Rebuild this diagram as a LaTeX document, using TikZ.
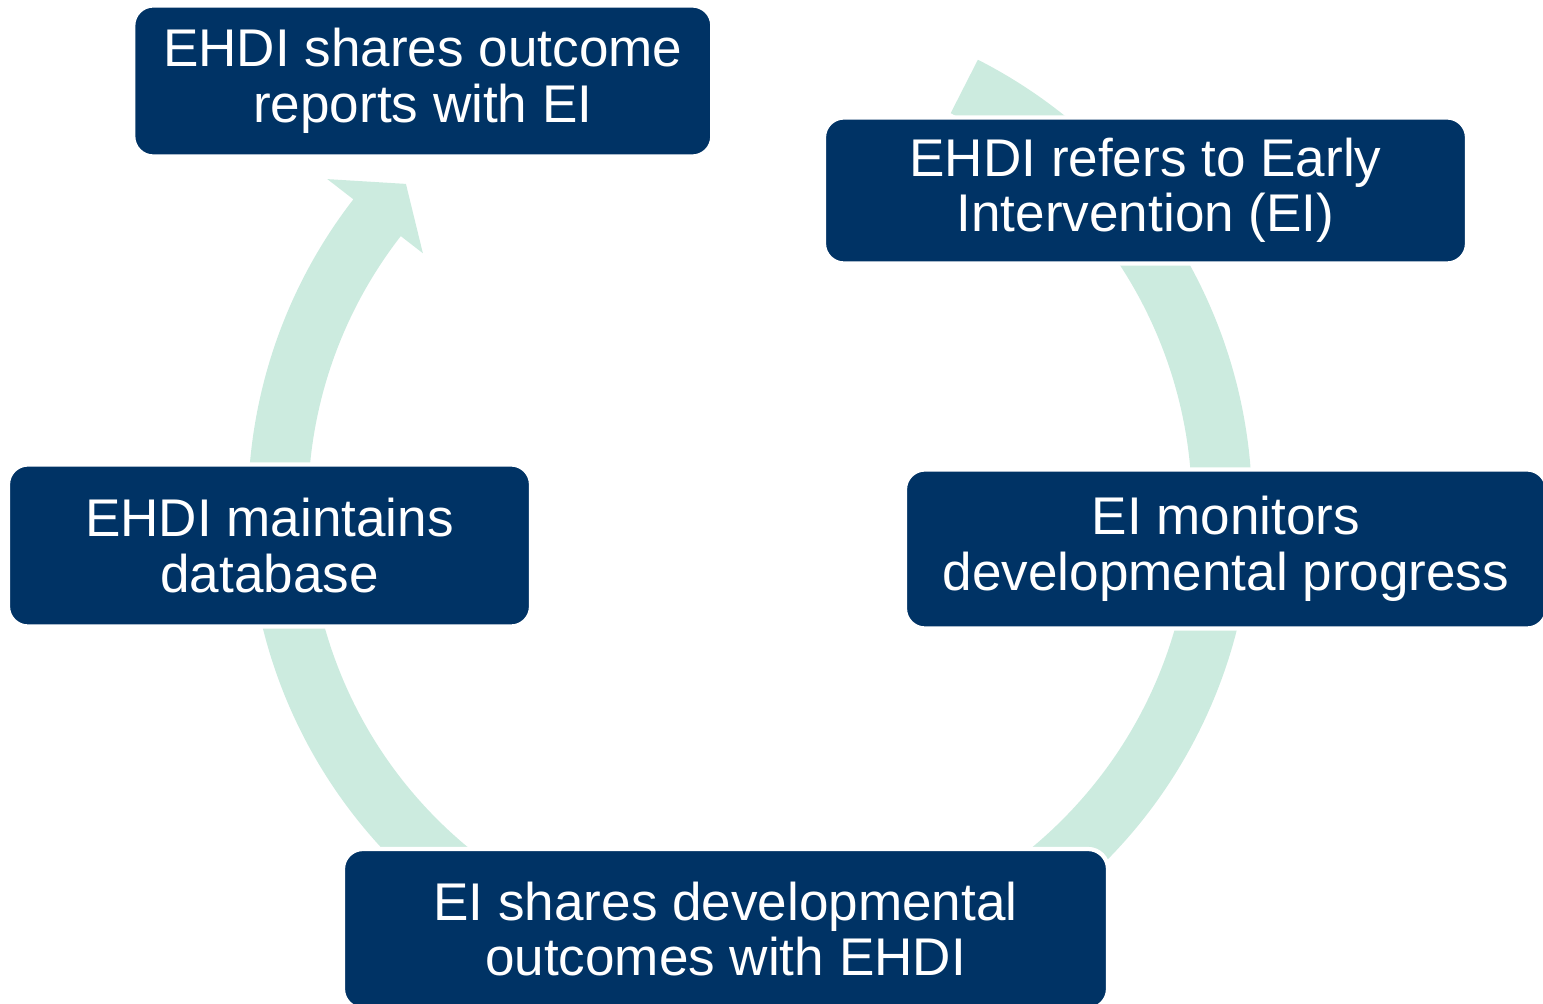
\documentclass[tikz,border=0pt]{standalone}
\usepackage{fontspec}
\setmainfont{Liberation Sans}
\usepackage{tikz}
\usetikzlibrary{positioning}
\usetikzlibrary{calc}
\definecolor{navy}{RGB}{0,51,101}
\definecolor{mint}{RGB}{204,235,223}
\tikzstyle{stepbox}=[rectangle,rounded corners=0.2cm,fill=navy,draw=white,line width=1.2pt,text=white,align=center,inner sep=0pt,font=\fontsize{15.1}{15.8}\selectfont]
\tikzstyle{band}=[fill=mint,draw=none]

\begin{document}
\begin{tikzpicture}
    \useasboundingbox (0,0) rectangle (15.43,10.04);
    \coordinate (O) at (7.50,4.97);

    % the cycle band with its head, behind the boxes
    \begin{scope}[shift={(O)}]
      \fill[band] (63:5.02) arc[start angle=63, end angle=-217.8, radius=5.02]
           -- (-217.8:5.35) -- (-223.2:4.72) -- (-217.8:4.14) -- (-217.8:4.42)
           arc[start angle=-217.8, end angle=63, radius=4.42] -- cycle;
    \end{scope}

    % the five steps
    \foreach \pos/\name/\w/\h/\txt in {
        {(4.228,9.23)/share/5.79/1.51/{EHDI shares outcome\\reports with EI}},
        {(11.455,8.135)/refer/6.43/1.46/{EHDI refers to Early\\Intervention (EI)}},
        {(12.26,4.55)/monitor/6.42/1.59/{EI monitors\\developmental progress}},
        {(7.255,0.75)/outcome/7.65/1.60/{EI shares developmental\\outcomes with EHDI}},
        {(2.695,4.585)/database/5.23/1.62/{EHDI maintains\\database}}}
        \node[stepbox,minimum width=\w cm,minimum height=\h cm] (\name) at \pos {\txt};

\end{tikzpicture}
\end{document}
